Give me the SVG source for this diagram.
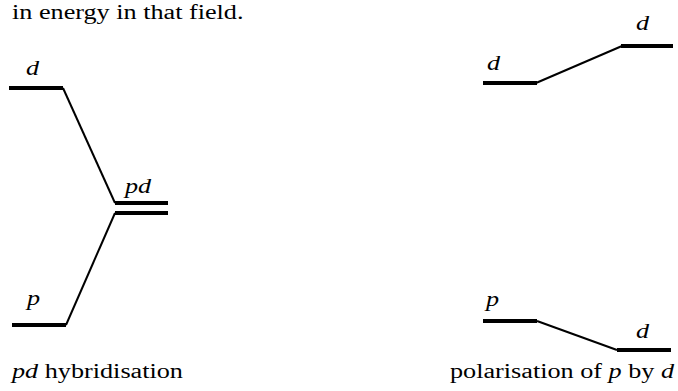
<svg xmlns="http://www.w3.org/2000/svg" width="678" height="391" viewBox="0 0 678 391">
<style>
  .lvl{stroke:#000;stroke-width:4;stroke-linecap:butt;fill:none}
  .con{stroke:#000;stroke-width:2;fill:none}
  text{font-family:"Liberation Serif","Times New Roman",serif;font-size:20px;fill:#000}
  .it{font-style:italic}
</style>
<rect width="678" height="391" fill="#fff"/>
<text transform="translate(12,19) scale(1.31,1)">in energy in that field.</text>

<g id="connectors">
  <line class="con" x1="63" y1="88" x2="115" y2="203"/>
  <line class="con" x1="115" y1="213" x2="66" y2="325"/>
  <line class="con" x1="536" y1="83" x2="622" y2="46"/>
  <line class="con" x1="537" y1="321" x2="617" y2="350"/>
</g>

<g id="hyb-d">
  <line class="lvl" x1="9" y1="88" x2="63" y2="88"/>
  <text class="it" transform="translate(26,75) scale(1.31,1)">d</text>
</g>
<g id="hyb-pd">
  <line class="lvl" x1="115" y1="203" x2="168" y2="203"/>
  <line class="lvl" x1="115" y1="213" x2="168" y2="213"/>
  <text class="it" transform="translate(125,193) scale(1.31,1)">pd</text>
</g>
<g id="hyb-p">
  <line class="lvl" x1="12" y1="325" x2="66" y2="325"/>
  <text class="it" transform="translate(27,305) scale(1.31,1)">p</text>
</g>

<g id="pol-d1">
  <line class="lvl" x1="483" y1="83" x2="537" y2="83"/>
  <text class="it" transform="translate(487,70) scale(1.31,1)">d</text>
</g>
<g id="pol-d2">
  <line class="lvl" x1="621" y1="46" x2="673" y2="46"/>
  <text class="it" transform="translate(636,30) scale(1.31,1)">d</text>
</g>
<g id="pol-p">
  <line class="lvl" x1="483" y1="321" x2="537" y2="321"/>
  <text class="it" transform="translate(486,306) scale(1.31,1)">p</text>
</g>
<g id="pol-d3">
  <line class="lvl" x1="617" y1="350" x2="671" y2="350"/>
  <text class="it" transform="translate(636,338) scale(1.31,1)">d</text>
</g>

<text transform="translate(12,378) scale(1.31,1)"><tspan class="it">pd</tspan> hybridisation</text>
<text transform="translate(450,378) scale(1.31,1)">polarisation of <tspan class="it">p</tspan> by <tspan class="it">d</tspan></text>
</svg>
